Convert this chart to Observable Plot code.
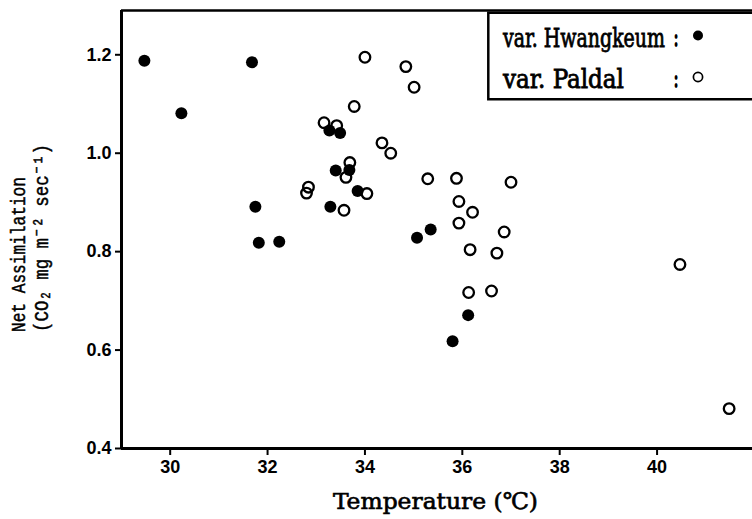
<!DOCTYPE html>
<html><head><meta charset="utf-8">
<script src="https://cdn.jsdelivr.net/npm/d3@7"></script>
<script src="https://cdn.jsdelivr.net/npm/@observablehq/plot@0.6"></script>
<style>
html,body{margin:0;padding:0;background:#fff;overflow:hidden}
#chart{position:relative;width:752px;height:519px}
</style></head><body><div id="chart"></div>
<script>
// Data
const hwangkeumTemp = [29.47, 30.23, 31.68, 31.75, 31.82, 32.24, 33.29, 33.27, 33.49, 33.40, 33.68, 33.85, 35.07, 35.35, 35.80, 36.12];
const hwangkeumNA   = [1.188, 1.081, 1.185, 0.891, 0.818, 0.820, 0.891, 1.046, 1.041, 0.965, 0.966, 0.923, 0.828, 0.845, 0.618, 0.671];
const paldalTemp = [32.80, 32.84, 33.16, 33.42, 33.57, 33.61, 33.69, 33.78, 34.00, 34.04, 34.35, 34.53, 34.84, 35.01, 35.29, 35.88, 35.93, 35.93, 36.13, 36.16, 36.21, 36.60, 36.71, 36.86, 37.00, 40.47, 41.48];
const paldalNA   = [0.919, 0.931, 1.062, 1.056, 0.884, 0.951, 0.981, 1.095, 1.195, 0.918, 1.021, 1.000, 1.176, 1.134, 0.948, 0.949, 0.902, 0.858, 0.717, 0.804, 0.880, 0.720, 0.797, 0.840, 0.941, 0.774, 0.481];
const xTicks = [30, 32, 34, 36, 38, 40];
const yTicks = [0.4, 0.6, 0.8, 1.0, 1.2];
const legendLabels = ["var. Hwangkeum", "var. Paldal"];
const xTitle = "Temperature (℃)";
const yTitleLines = ["Net Assimilation", "(CO₂ mg m⁻² sec⁻¹)"];

const hw = hwangkeumTemp.map((t, i) => ({t, v: hwangkeumNA[i]}));
const pd = paldalTemp.map((t, i) => ({t, v: paldalNA[i]}));

const xMin = 29, xMax = 41.96, yMin = 0.4, yMax = 1.29;

const plot = Plot.plot({
  width: 752, height: 519,
  marginLeft: 121, marginRight: 0, marginTop: 10, marginBottom: 71,
  x: {domain: [xMin, xMax]},
  y: {domain: [yMin, yMax]},
  style: {fontFamily: "Liberation Sans", background: "white", color: "black", overflow: "visible"},
  marks: [
    Plot.axisX({ticks: xTicks, tickSize: 7, tickPadding: 5, label: null, fontSize: 18, fontWeight: "bold", strokeWidth: 2}),
    Plot.axisY({ticks: yTicks, tickSize: 6, tickPadding: 4, tickFormat: d3.format(".1f"), label: null, fontSize: 18, fontWeight: "bold", strokeWidth: 2}),
    Plot.ruleX([xMin], {strokeWidth: 3}),
    Plot.ruleY([yMin], {strokeWidth: 3}),
    Plot.ruleY([yMax], {strokeWidth: 2.5}),
    Plot.dot(pd, {x: "t", y: "v", r: 5.3, stroke: "black", strokeWidth: 2.3, fill: "none"}),
    Plot.dot(hw, {x: "t", y: "v", r: 6, fill: "black", stroke: "none"})
  ]
});
document.getElementById("chart").appendChild(plot);

const svg = d3.select(plot);
const mono = "'Liberation Mono', 'DejaVu Sans Mono', monospace";
const typew = "'DejaVu Serif Condensed', 'DejaVu Serif', 'Liberation Serif', serif";

// x title
svg.append("text").attr("transform", "translate(333,509) scale(1,1.35)")
  .attr("text-anchor", "start")
  .attr("font-family", typew).attr("font-weight", "normal").attr("font-size", 17)
  .attr("stroke", "black").attr("stroke-width", 0.45)
  .attr("textLength", 205).attr("lengthAdjust", "spacingAndGlyphs")
  .text(xTitle);

// y title (two rotated lines)
yTitleLines.forEach((s, i) => {
  svg.append("text")
    .attr("transform", `translate(${i === 0 ? 25 : 48},332) rotate(-90)`)
    .attr("text-anchor", "start")
    .attr("font-family", mono).attr("font-weight", "normal").attr("font-size", 21)
    .attr("stroke", "black").attr("stroke-width", 0.5)
    .attr("textLength", i === 0 ? 155 : 188).attr("lengthAdjust", "spacingAndGlyphs")
    .text(s);
});

// legend box
const lg = svg.append("g");
lg.append("path").attr("d", "M760,12.7 H488.3 V99.3 H760").attr("fill", "white")
  .attr("stroke", "black").attr("stroke-width", 2.5);
const rows = [{y: 46.5, filled: true}, {y: 88, filled: false}];
rows.forEach((r, i) => {
  lg.append("text").attr("transform", `translate(503,${r.y}) scale(1,1.5)`)
    .attr("text-anchor", "start")
    .attr("font-family", typew).attr("font-weight", "normal").attr("font-size", 17)
    .attr("stroke", "black").attr("stroke-width", 0.5)
    .attr("textLength", i === 0 ? 162 : 121).attr("lengthAdjust", "spacingAndGlyphs")
    .text(legendLabels[i]);
  lg.append("text").attr("transform", `translate(676,${r.y}) scale(1,1.5)`)
    .attr("text-anchor", "middle").attr("font-family", typew).attr("font-weight", "bold")
    .attr("font-size", 17).text(":");
  lg.append("circle").attr("cx", 698).attr("cy", r.y - 11).attr("r", r.filled ? 5 : 4.6)
    .attr("fill", r.filled ? "black" : "none").attr("stroke", "black")
    .attr("stroke-width", r.filled ? 0 : 1.7);
});
</script></body></html>
